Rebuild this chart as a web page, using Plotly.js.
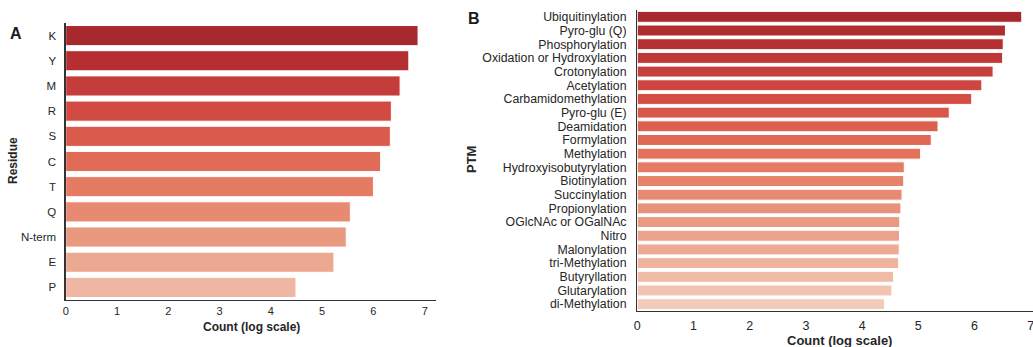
<!DOCTYPE html>
<html>
<head>
<meta charset="utf-8">
<script src="https://cdn.plot.ly/plotly-3.0.1.min.js"></script>
<style>
  html, body { margin: 0; padding: 0; background: #fff; }
  #chart { width: 1033px; height: 347px; }
</style>
</head>
<body>
<div id="chart"></div>
<script>
// Panel A: modified residues
const residues = ['K', 'Y', 'M', 'R', 'S', 'C', 'T', 'Q', 'N-term', 'E', 'P'];
const residueCounts = [6.87, 6.69, 6.52, 6.35, 6.33, 6.14, 6.00, 5.55, 5.47, 5.23, 4.49];

// Panel B: PTM types
const ptms = [
  'Ubiquitinylation', 'Pyro-glu (Q)', 'Phosphorylation', 'Oxidation or Hydroxylation',
  'Crotonylation', 'Acetylation', 'Carbamidomethylation', 'Pyro-glu (E)', 'Deamidation',
  'Formylation', 'Methylation', 'Hydroxyisobutyrylation', 'Biotinylation', 'Succinylation',
  'Propionylation', 'OGlcNAc or OGalNAc', 'Nitro', 'Malonylation', 'tri-Methylation',
  'Butyryllation', 'Glutarylation', 'di-Methylation'
];
const ptmCounts = [
  6.84, 6.55, 6.51, 6.50, 6.33, 6.13, 5.95, 5.55, 5.35, 5.23, 5.04,
  4.75, 4.74, 4.71, 4.69, 4.67, 4.665, 4.66, 4.65, 4.56, 4.53, 4.40
];

const xTicks = [0, 1, 2, 3, 4, 5, 6, 7];

// "Reds" colour stops, sampled along a range and softened (saturation 0.75)
const redsStops = ['#fff5f0', '#fee0d2', '#fcbba1', '#fc9272', '#fb6a4a', '#ef3b2c', '#cb181d', '#a50f15', '#67000d'];
function hexToRgb(h) {
  return [1, 3, 5].map(i => parseInt(h.slice(i, i + 2), 16) / 255);
}
function reds(t) {
  const p = t * (redsStops.length - 1);
  const i = Math.min(Math.floor(p), redsStops.length - 2);
  const f = p - i;
  const a = hexToRgb(redsStops[i]), b = hexToRgb(redsStops[i + 1]);
  return a.map((v, k) => v + (b[k] - v) * f);
}
function desaturate(rgb, amount) {
  const [r, g, b] = rgb;
  const mx = Math.max(r, g, b), mn = Math.min(r, g, b);
  const l = (mx + mn) / 2;
  if (mx === mn) return rgb;
  const d = mx - mn;
  const s = l > 0.5 ? d / (2 - mx - mn) : d / (mx + mn);
  let h;
  if (mx === r) h = ((g - b) / d) % 6;
  else if (mx === g) h = (b - r) / d + 2;
  else h = (r - g) / d + 4;
  h /= 6; if (h < 0) h += 1;
  const s2 = s * amount;
  const q = l < 0.5 ? l * (1 + s2) : l + s2 - l * s2;
  const pp = 2 * l - q;
  const hue = (t) => {
    if (t < 0) t += 1; if (t > 1) t -= 1;
    if (t < 1 / 6) return pp + (q - pp) * 6 * t;
    if (t < 1 / 2) return q;
    if (t < 2 / 3) return pp + (q - pp) * (2 / 3 - t) * 6;
    return pp;
  };
  return [hue(h + 1 / 3), hue(h), hue(h - 1 / 3)];
}
function palette(n, tHigh, tLow) {
  const out = [];
  for (let i = 0; i < n; i++) {
    const t = tHigh + (tLow - tHigh) * (n === 1 ? 0 : i / (n - 1));
    const c = desaturate(reds(t), 0.75).map(v => Math.round(v * 255));
    out.push(`rgb(${c[0]},${c[1]},${c[2]})`);
  }
  return out;
}

const W = 1033, H = 347;
const fx = (px) => px / W;
const fy = (py) => 1 - py / H;

const FONT = 'Liberation Sans, Arial, Helvetica, sans-serif';
const TXT = '#262626';
const AX = '#333333';

const traces = [
  {
    type: 'bar', orientation: 'h',
    x: residueCounts, y: residues,
    xaxis: 'x', yaxis: 'y',
    width: 0.8,
    marker: { color: palette(residues.length, 0.80, 0.28), line: { color: '#ffffff', width: 1 } },
    hoverinfo: 'x+y'
  },
  {
    type: 'bar', orientation: 'h',
    x: ptmCounts, y: ptms,
    xaxis: 'x2', yaxis: 'y2',
    width: 0.8,
    marker: { color: palette(ptms.length, 0.80, 0.21), line: { color: '#ffffff', width: 1 } },
    hoverinfo: 'x+y'
  }
];

const baseX = {
  tickmode: 'array', tickvals: xTicks, ticktext: xTicks.map(String),
  showgrid: false, zeroline: false,
  showline: true, linecolor: AX, linewidth: 1.3,
  ticks: '', ticklabeloverflow: 'allow',
  fixedrange: true
};
const baseY = {
  type: 'category',
  showgrid: false, zeroline: false,
  showline: true, linecolor: AX, linewidth: 1.3,
  ticks: '', fixedrange: true,
  tickmode: 'linear', tick0: 0, dtick: 1
};

const layout = {
  width: W, height: H,
  margin: { l: 0, r: 0, t: 0, b: 0, pad: 0 },
  paper_bgcolor: '#ffffff', plot_bgcolor: 'rgba(0,0,0,0)',
  showlegend: false,
  font: { family: FONT, color: TXT },
  bargap: 0.2,
  xaxis: Object.assign({}, baseX, {
    domain: [fx(65.7), fx(436)], range: [0, 7.22], anchor: 'y',
    tickfont: { size: 11, color: TXT }, ticklabelstandoff: 0
  }),
  yaxis: Object.assign({}, baseY, {
    domain: [fy(300), fy(23)], range: [10.5, -0.5], anchor: 'x',
    tickfont: { size: 11.5, color: TXT }, ticklabelstandoff: 6
  }),
  xaxis2: Object.assign({}, baseX, {
    domain: [fx(637.3), 1], range: [0, 7.04], anchor: 'y2',
    tickfont: { size: 12.5, color: TXT }, ticklabelstandoff: 3
  }),
  yaxis2: Object.assign({}, baseY, {
    domain: [fy(311), fy(10)], range: [21.5, -0.5], anchor: 'x2',
    tickfont: { size: 12.3, color: TXT }, ticklabelstandoff: 7
  }),
  annotations: [
    { text: '<b>A</b>', x: fx(16), y: fy(33), xref: 'paper', yref: 'paper',
      xanchor: 'center', yanchor: 'middle', showarrow: false,
      font: { size: 16, color: '#1a1a1a', family: FONT } },
    { text: '<b>B</b>', x: fx(474), y: fy(19), xref: 'paper', yref: 'paper',
      xanchor: 'center', yanchor: 'middle', showarrow: false,
      font: { size: 16, color: '#1a1a1a', family: FONT } },
    { text: '<b>Count (log scale)</b>', x: fx(251), y: fy(327), xref: 'paper', yref: 'paper',
      xanchor: 'center', yanchor: 'middle', showarrow: false,
      font: { size: 12, color: TXT, family: FONT } },
    { text: '<b>Count (log scale)</b>', x: fx(839), y: fy(340), xref: 'paper', yref: 'paper',
      xanchor: 'center', yanchor: 'middle', showarrow: false,
      font: { size: 13, color: TXT, family: FONT } },
    { text: '<b>Residue</b>', x: fx(13), y: fy(161), xref: 'paper', yref: 'paper',
      xanchor: 'center', yanchor: 'middle', showarrow: false, textangle: -90,
      font: { size: 12, color: TXT, family: FONT } },
    { text: '<b>PTM</b>', x: fx(471), y: fy(160), xref: 'paper', yref: 'paper',
      xanchor: 'center', yanchor: 'middle', showarrow: false, textangle: -90,
      font: { size: 13, color: TXT, family: FONT } }
  ]
};

Plotly.newPlot('chart', traces, layout, { displayModeBar: false, staticPlot: true });
</script>
</body>
</html>
